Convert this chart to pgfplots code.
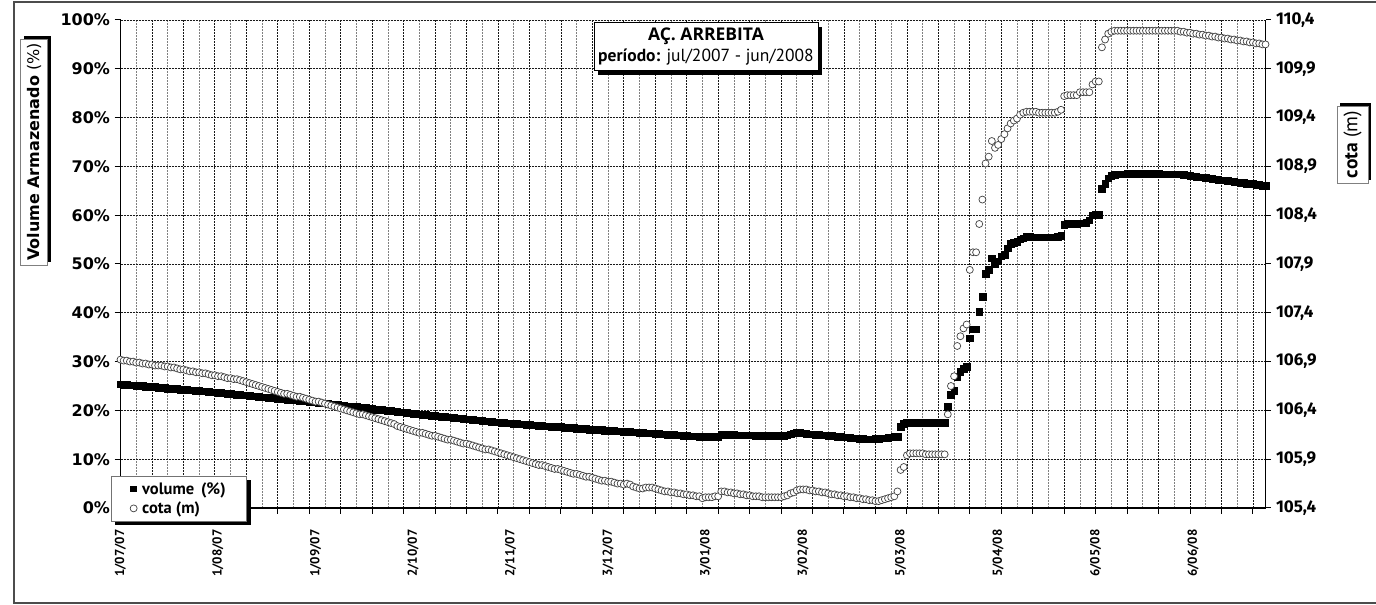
\documentclass[border=0pt]{standalone}
\usepackage{fontspec}
\setmainfont{PT Sans}
\newfontfamily\dejavu{DejaVu Sans}
\newfontfamily\fira{Fira Sans}
\newfontfamily\opensans{Open Sans}
\usepackage{pgfplots}
\usepackage{pgfplotstable}
\pgfplotsset{compat=1.18}
\usetikzlibrary{shadows}

\pgfplotstableread{
d v c
0 25.4 106.92
1 25.3 106.91
2 25.3 106.91
3 25.2 106.90
4 25.2 106.90
5 25.1 106.89
6 25.1 106.89
7 25.0 106.88
8 24.9 106.88
9 24.9 106.87
10 24.8 106.87
11 24.8 106.86
12 24.7 106.86
13 24.7 106.86
14 24.6 106.85
15 24.5 106.85
16 24.5 106.84
17 24.4 106.84
18 24.4 106.83
19 24.3 106.82
20 24.3 106.82
21 24.2 106.81
22 24.1 106.80
23 24.1 106.80
24 24.0 106.79
25 24.0 106.79
26 23.9 106.78
27 23.9 106.78
28 23.8 106.77
29 23.7 106.76
30 23.7 106.76
31 23.6 106.75
32 23.6 106.75
33 23.5 106.74
34 23.4 106.73
35 23.4 106.73
36 23.3 106.72
37 23.2 106.72
38 23.2 106.71
39 23.1 106.70
40 23.1 106.69
41 23.0 106.68
42 22.9 106.67
43 22.9 106.66
44 22.8 106.65
45 22.7 106.64
46 22.7 106.63
47 22.6 106.62
48 22.6 106.61
49 22.5 106.60
50 22.4 106.59
51 22.4 106.58
52 22.3 106.57
53 22.2 106.57
54 22.2 106.56
55 22.1 106.55
56 22.1 106.54
57 22.0 106.54
58 21.9 106.53
59 21.9 106.52
60 21.8 106.51
61 21.8 106.50
62 21.7 106.49
63 21.6 106.49
64 21.5 106.48
65 21.5 106.47
66 21.4 106.46
67 21.3 106.45
68 21.2 106.44
69 21.2 106.43
70 21.1 106.42
71 21.0 106.41
72 20.9 106.40
73 20.8 106.39
74 20.8 106.38
75 20.7 106.37
76 20.6 106.36
77 20.5 106.36
78 20.5 106.35
79 20.4 106.34
80 20.3 106.33
81 20.2 106.32
82 20.2 106.31
83 20.1 106.30
84 20.0 106.29
85 19.9 106.28
86 19.9 106.27
87 19.8 106.26
88 19.7 106.24
89 19.6 106.23
90 19.6 106.22
91 19.5 106.21
92 19.4 106.20
93 19.3 106.19
94 19.3 106.18
95 19.2 106.17
96 19.1 106.17
97 19.1 106.16
98 19.0 106.15
99 18.9 106.14
100 18.9 106.14
101 18.8 106.13
102 18.7 106.12
103 18.7 106.11
104 18.6 106.10
105 18.6 106.10
106 18.5 106.09
107 18.4 106.08
108 18.4 106.07
109 18.3 106.06
110 18.2 106.06
111 18.2 106.05
112 18.1 106.04
113 18.0 106.03
114 18.0 106.02
115 17.9 106.01
116 17.8 106.00
117 17.8 106.00
118 17.7 105.99
119 17.6 105.98
120 17.6 105.97
121 17.5 105.96
122 17.5 105.95
123 17.4 105.94
124 17.4 105.93
125 17.3 105.92
126 17.3 105.91
127 17.2 105.90
128 17.2 105.89
129 17.1 105.88
130 17.1 105.87
131 17.0 105.86
132 17.0 105.85
133 16.9 105.84
134 16.9 105.84
135 16.8 105.83
136 16.8 105.82
137 16.7 105.81
138 16.7 105.80
139 16.6 105.80
140 16.6 105.79
141 16.5 105.78
142 16.5 105.77
143 16.4 105.76
144 16.4 105.75
145 16.3 105.75
146 16.3 105.74
147 16.2 105.73
148 16.2 105.72
149 16.1 105.72
150 16.1 105.71
151 16.0 105.70
152 16.0 105.69
153 16.0 105.68
154 15.9 105.68
155 15.9 105.67
156 15.8 105.67
157 15.8 105.66
158 15.7 105.65
159 15.7 105.65
160 15.6 105.64
161 15.6 105.65
162 15.6 105.64
163 15.5 105.62
164 15.5 105.61
165 15.4 105.60
166 15.4 105.60
167 15.3 105.61
168 15.3 105.61
169 15.3 105.61
170 15.2 105.60
171 15.2 105.59
172 15.1 105.58
173 15.1 105.57
174 15.0 105.57
175 15.0 105.56
176 15.0 105.56
177 14.9 105.55
178 14.9 105.55
179 14.8 105.54
180 14.8 105.54
181 14.7 105.53
182 14.7 105.53
183 14.7 105.52
184 14.6 105.52
185 14.6 105.50
186 14.6 105.51
187 14.6 105.51
188 14.6 105.51
189 14.6 105.52
190 14.6 105.52
191 15.1 105.57
192 15.0 105.57
193 15.0 105.56
194 15.0 105.56
195 15.0 105.55
196 14.9 105.55
197 14.9 105.54
198 14.9 105.54
199 14.9 105.53
200 14.9 105.53
201 14.9 105.52
202 14.8 105.52
203 14.8 105.52
204 14.8 105.51
205 14.8 105.51
206 14.8 105.51
207 14.8 105.51
208 14.8 105.51
209 14.8 105.51
210 14.8 105.51
211 14.8 105.52
212 14.9 105.53
213 15.1 105.55
214 15.3 105.56
215 15.4 105.58
216 15.4 105.59
217 15.3 105.59
218 15.2 105.59
219 15.1 105.58
220 15.1 105.58
221 15.0 105.57
222 15.0 105.57
223 14.9 105.56
224 14.9 105.56
225 14.8 105.55
226 14.8 105.54
227 14.7 105.54
228 14.6 105.53
229 14.6 105.53
230 14.5 105.52
231 14.5 105.52
232 14.4 105.51
233 14.3 105.51
234 14.3 105.50
235 14.2 105.50
236 14.2 105.49
237 14.1 105.49
238 14.1 105.48
239 14.1 105.48
240 14.2 105.47
241 14.2 105.47
242 14.3 105.48
243 14.3 105.49
244 14.4 105.50
245 14.5 105.51
246 14.6 105.52
247 14.6 105.57
248 16.7 105.79
249 17.3 105.82
250 17.5 105.94
251 17.5 105.96
252 17.5 105.96
253 17.5 105.96
254 17.5 105.96
255 17.5 105.96
256 17.5 105.95
257 17.5 105.95
258 17.5 105.95
259 17.5 105.95
260 17.5 105.95
261 17.5 105.95
262 17.5 105.95
263 20.8 106.36
264 23.2 106.65
265 24.0 106.75
266 26.9 107.06
267 27.9 107.16
268 28.6 107.24
269 29.0 107.28
270 34.8 107.84
271 36.6 108.02
272 36.6 108.02
273 40.2 108.31
274 43.3 108.56
275 48.0 108.93
276 48.8 109.00
277 51.2 109.16
278 50.1 109.09
279 50.6 109.12
280 51.6 109.18
281 51.9 109.23
282 53.2 109.29
283 54.1 109.34
284 54.4 109.37
285 54.6 109.39
286 55.1 109.43
287 55.3 109.45
288 55.6 109.46
289 55.6 109.46
290 55.5 109.46
291 55.5 109.46
292 55.5 109.45
293 55.5 109.45
294 55.5 109.45
295 55.5 109.45
296 55.5 109.45
297 55.5 109.45
298 55.6 109.46
299 55.8 109.48
300 58.0 109.62
301 58.2 109.63
302 58.2 109.63
303 58.3 109.63
304 58.3 109.63
305 58.4 109.66
306 58.4 109.66
307 58.5 109.66
308 59.0 109.66
309 60.0 109.74
310 60.1 109.77
311 60.1 109.77
312 65.4 110.12
313 66.5 110.20
314 67.6 110.26
315 68.1 110.28
316 68.3 110.29
317 68.4 110.29
318 68.4 110.29
319 68.4 110.29
320 68.5 110.29
321 68.5 110.29
322 68.5 110.29
323 68.5 110.29
324 68.5 110.29
325 68.5 110.29
326 68.5 110.29
327 68.5 110.29
328 68.5 110.29
329 68.5 110.29
330 68.5 110.29
331 68.4 110.29
332 68.4 110.29
333 68.4 110.29
334 68.4 110.29
335 68.4 110.29
336 68.4 110.29
337 68.4 110.28
338 68.3 110.28
339 68.2 110.27
340 68.1 110.27
341 68.0 110.26
342 67.9 110.26
343 67.8 110.25
344 67.8 110.25
345 67.7 110.24
346 67.6 110.24
347 67.5 110.23
348 67.4 110.23
349 67.3 110.22
350 67.2 110.22
351 67.2 110.21
352 67.1 110.21
353 67.0 110.20
354 66.9 110.20
355 66.8 110.19
356 66.7 110.19
357 66.6 110.18
358 66.5 110.18
359 66.5 110.17
360 66.4 110.17
361 66.3 110.16
362 66.2 110.16
363 66.1 110.15
364 66.0 110.15
}\data

\begin{document}
\begin{tikzpicture}[x=1pt,y=1pt]
\useasboundingbox (0,0) rectangle (1376,605);
\draw[line width=2pt, black!70] (1376,602.5) -- (14,602.5) -- (14,2) -- (1376,2);

\begin{axis}[
  at={(120.5pt,97pt)}, anchor=south west,
  scale only axis, width=1145pt, height=488pt,
  xmin=0, xmax=364, ymin=0, ymax=100,
  axis x line*=bottom, axis y line*=left,
  axis line style={black, line width=1.2pt},
  xtick={0,10,...,360}, xticklabels={},
  minor xtick={5,15,...,355},
  extra x ticks={0,31,...,341},
  extra x tick labels={1/07/07,1/08/07,1/09/07,2/10/07,2/11/07,3/12/07,3/01/08,3/02/08,5/03/08,5/04/08,6/05/08,6/06/08},
  extra x tick style={grid=none, tick style={draw=none}},
  xticklabel style={yshift=-12pt, rotate=90, anchor=east, font=\bfseries\fontsize{13}{14}\selectfont},
  ytick={0,10,...,100},
  yticklabels={0\%,10\%,20\%,30\%,40\%,50\%,60\%,70\%,80\%,90\%,100\%},
  yticklabel style={font=\dejavu\bfseries\fontsize{16}{18}\selectfont, xshift=-1pt},
  tick align=outside, major tick length=6pt, minor tick length=0pt,
  tick style={black, line width=1pt},
  xmajorgrids, xminorgrids, ymajorgrids,
  major grid style={black!90, line width=0.75pt, dash pattern=on 2pt off 1pt},
  minor grid style={black!50, line width=0.75pt, dash pattern=on 2pt off 1pt},
]
\addplot[only marks, mark=square*, mark size=3.3pt, black] table[x=d,y=v]{\data};
\end{axis}

\begin{axis}[
  at={(120.5pt,97pt)}, anchor=south west,
  scale only axis, width=1145pt, height=488pt,
  xmin=0, xmax=364, ymin=105.4, ymax=110.4,
  axis x line=none, axis y line*=right,
  axis line style={black, line width=1.2pt},
  ytick={105.4,105.9,106.4,106.9,107.4,107.9,108.4,108.9,109.4,109.9,110.4},
  yticklabels={{105,4},{105,9},{106,4},{106,9},{107,4},{107,9},{108,4},{108,9},{109,4},{109,9},{110,4}},
  yticklabel style={font=\fira\bfseries\fontsize{17}{19}\selectfont, xshift=2pt},
  tick align=outside, major tick length=5pt,
  tick style={black, line width=1pt},
  legend cell align=left,
  legend style={at={(rel axis cs:-0.0086,0.0656)}, anchor=north west,
    draw=black!55, line width=1pt, fill=white,
    font=\bfseries\fontsize{16.5}{19}\selectfont,
    inner xsep=19pt, inner ysep=4pt, row sep=2pt,
    /tikz/every odd column/.append style={column sep=3pt},
    drop shadow={shadow xshift=4pt, shadow yshift=-4pt, fill=black, opacity=1}},
]
\addlegendimage{only marks, mark=square*, mark size=2.8pt, black}
\addlegendentry{volume\, (\%)\hspace{4pt}}
\addplot[only marks, mark=*, mark size=3.5pt, mark options={fill=white, draw=black!75, line width=0.7pt}] table[x=d,y=c]{\data};
\addlegendentry{cota (m)}
\end{axis}

% title
\node[fill=black, minimum width=224pt, minimum height=48pt] at (710,554.3) {};
\node[draw=black, line width=0.8pt, fill=white, minimum width=224pt, minimum height=48pt, inner sep=0pt, align=center, font=\fontsize{17.5}{21}\selectfont] at (706,558.3) {{\opensans\bfseries AÇ. ARREBITA}\\\textbf{período:} jul/2007 - jun/2008};

% left y label
\node[fill=black, rotate=90, minimum width=226pt, minimum height=27pt] at (37.2,456) {};
\node[draw=black!50, line width=0.8pt, fill=white, rotate=90, minimum width=226pt, minimum height=27pt, inner sep=0pt, font=\dejavu\fontsize{16}{18}\selectfont] at (34.2,453) {\textbf{Volume Armazenado} (\%)};

% right y label
\node[fill=black, rotate=90, minimum width=77pt, minimum height=31pt] at (1355.5,463.5) {};
\node[draw=black!50, line width=0.8pt, fill=white, rotate=90, minimum width=77pt, minimum height=31pt, inner sep=0pt, font=\fontsize{19.5}{21}\selectfont] at (1352.5,460.5) {\textbf{cota} (m)};
\end{tikzpicture}
\end{document}
